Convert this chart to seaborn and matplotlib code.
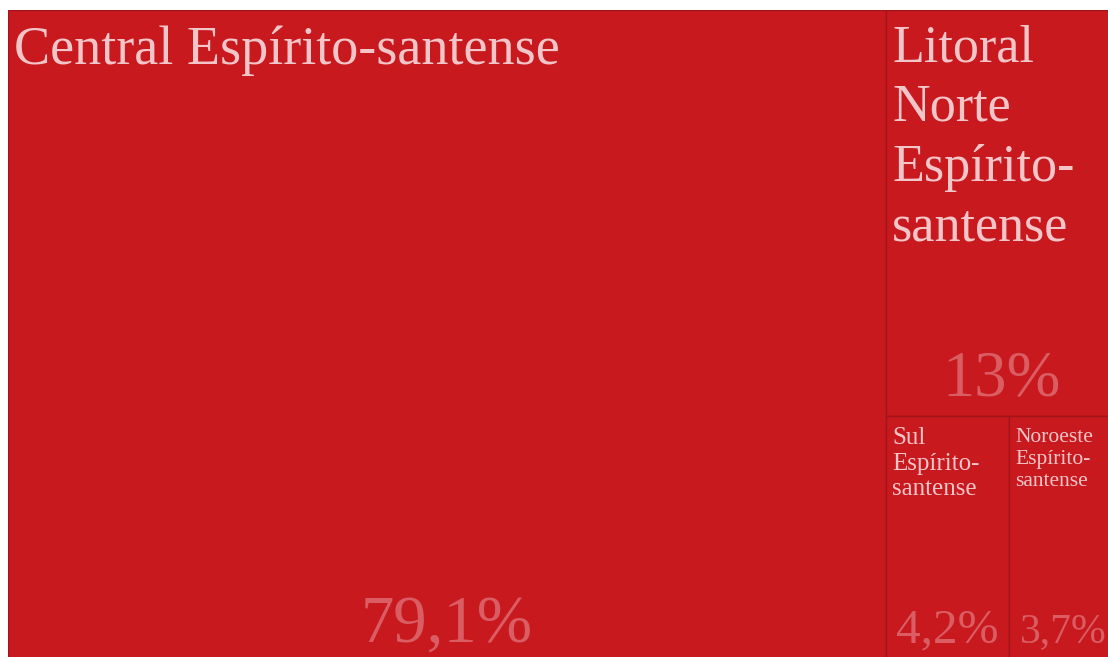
import matplotlib
matplotlib.use("Agg")
import matplotlib.pyplot as plt
from matplotlib.patches import Rectangle
import seaborn as sns

# Data
regions = ["Central Espírito-santense", "Litoral Norte Espírito-santense",
           "Sul Espírito-santense", "Noroeste Espírito-santense"]
label_lines = ["Central Espírito-santense",
               "Litoral\nNorte\nEspírito-\nsantense",
               "Sul\nEspírito-\nsantense",
               "Noroeste\nEspírito-\nsantense"]
shares = [79.1, 13.0, 4.2, 3.7]
share_labels = ["79,1%", "13%", "4,2%", "3,7%"]

sns.set_theme(style="white")
plt.rcParams["font.family"] = ["Liberation Serif", "DejaVu Serif"]

FILL = "#C8191F"
EDGE = "#A3141A"
LABEL_C = "#F2C6C9"
PCT_C = "#DA5D64"

W, H = 1110.0, 653.0
fig = plt.figure(figsize=(11.08, 6.57), dpi=100)
ax = fig.add_axes([8 / 1108, -6 / 657, W / 1108, H / 657])
ax.set_xlim(0, W)
ax.set_ylim(H, 0)
ax.axis("off")


def slice_dice(values, x, y, w, h, vertical=True):
    rects = []
    rem = list(values)
    for i, v in enumerate(values):
        if i == len(values) - 1:
            rects.append((x, y, w, h))
            break
        frac = v / sum(rem)
        if vertical:
            rects.append((x, y, w * frac, h))
            x += w * frac
            w -= w * frac
        else:
            rects.append((x, y, w, h * frac))
            y += h * frac
            h -= h * frac
        rem = rem[1:]
        if i < len(values) - 2:
            vertical = not vertical
    return rects


rects = slice_dice(shares, 0, 0, W, H)

label_pt = [39, 37.5, 18, 15.5]
pct_pt = [48, 46.5, 35.5, 30]
label_ls = [1.0, 1.32, 1.2, 1.21]
label_dy = [15, 14, 11, 12]

for (x, y, w, h), lab, pl, lp, pp, ls, dy in zip(rects, label_lines, share_labels,
                                                  label_pt, pct_pt, label_ls, label_dy):
    ax.add_patch(Rectangle((x, y), w, h, facecolor=FILL, edgecolor=EDGE, lw=1))
    ax.text(x + 6, y + dy, lab, color=LABEL_C, fontsize=lp, ha="left", va="top",
            linespacing=ls)
    ax.text(x + w / 2, y + h - 21, pl, color=PCT_C, fontsize=pp,
            ha="center", va="baseline")

fig.savefig("out.png", dpi=100)
